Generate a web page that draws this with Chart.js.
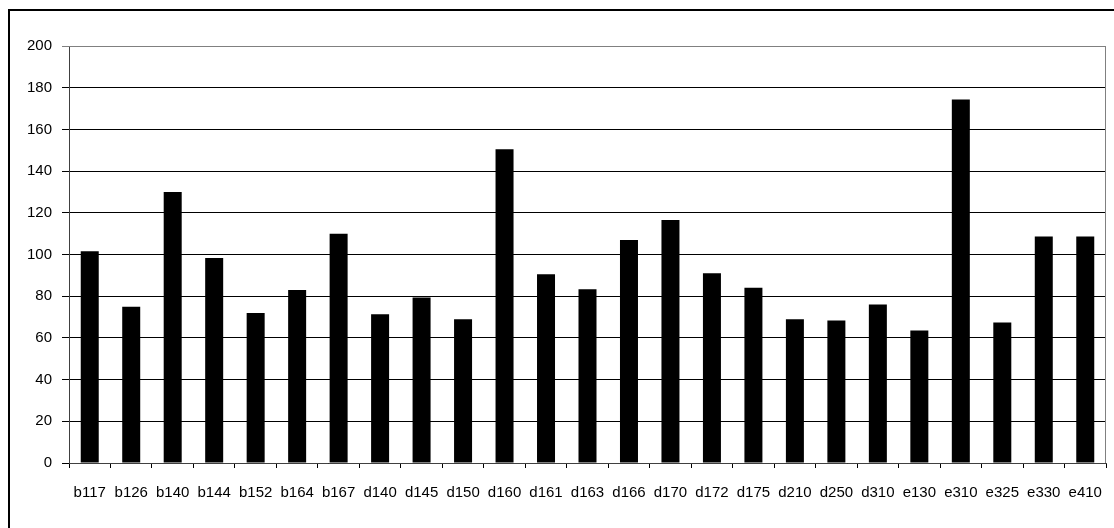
<!DOCTYPE html>
<html>
<head>
<meta charset="utf-8">
<script src="https://cdn.jsdelivr.net/npm/chart.js@4.4.1/dist/chart.umd.min.js"></script>
<style>
    html, body { margin: 0; padding: 0; background: #fff; }
    canvas { display: block; }
</style>
</head>
<body>
<canvas id="barChart" width="1114" height="528"></canvas>
<script>
// data
const categories = ['b117', 'b126', 'b140', 'b144', 'b152', 'b164', 'b167', 'd140', 'd145', 'd150',
    'd160', 'd161', 'd163', 'd166', 'd170', 'd172', 'd175', 'd210', 'd250', 'd310',
    'e130', 'e310', 'e325', 'e330', 'e410'];
const values = [101.5, 75, 130, 98.3, 72, 83, 110, 71.3, 79.4, 69,
    150.5, 90.5, 83.3, 107, 116.5, 91, 84, 69, 68.3, 76,
    63.5, 174.3, 67.4, 108.6, 108.6];
const yMin = 0;
const yMax = 200;
const yStep = 20;

const labelFont = 'Liberation Sans, Arial';

// white background, outer frame and the grey plot-area edge
const framePlugin = {
    id: 'frame',
    beforeDraw(chart) {
        const ctx = chart.ctx;
        ctx.save();
        ctx.fillStyle = '#fff';
        ctx.fillRect(0, 0, chart.width, chart.height);
        ctx.strokeStyle = '#000';
        ctx.lineWidth = 2;
        ctx.beginPath();
        ctx.moveTo(9, chart.height);
        ctx.lineTo(9, 10);
        ctx.lineTo(chart.width, 10);
        ctx.stroke();
        ctx.restore();
    },
    afterDraw(chart) {
        const ctx = chart.ctx;
        const a = chart.chartArea;
        ctx.save();
        ctx.strokeStyle = '#808080';
        ctx.lineWidth = 1;
        ctx.beginPath();
        ctx.moveTo(a.left, a.top + 0.5);
        ctx.lineTo(a.right - 0.5, a.top + 0.5);
        ctx.lineTo(a.right - 0.5, a.bottom);
        ctx.stroke();
        ctx.restore();
    }
};

new Chart(document.getElementById('barChart').getContext('2d'), {
    type: 'bar',
    data: {
        labels: categories,
        datasets: [{
            data: values,
            backgroundColor: '#000',
            borderWidth: 0,
            categoryPercentage: 1,
            barPercentage: 0.434
        }]
    },
    options: {
        responsive: false,
        animation: false,
        layout: { padding: { top: 46, right: 8, left: 0, bottom: 0 } },
        plugins: {
            legend: { display: false },
            tooltip: { enabled: false }
        },
        scales: {
            x: {
                grid: { drawOnChartArea: false, drawTicks: true, tickLength: 5, color: '#000' },
                border: { display: true, color: '#404040' },
                ticks: {
                    color: '#000',
                    // tall line height pushes labels down without widening the edge padding
                    font: { family: labelFont, size: 15, lineHeight: 2 },
                    padding: 10,
                    maxRotation: 0,
                    autoSkip: false
                },
                afterFit(scale) { scale.height = 65; }
            },
            y: {
                min: yMin,
                max: yMax,
                grid: {
                    color: (c) => c.tick && c.tick.value === yMax ? '#808080' : '#000',
                    tickLength: 7,
                    drawTicks: true
                },
                border: { display: true, color: '#404040' },
                ticks: {
                    stepSize: yStep,
                    color: '#000',
                    font: { family: labelFont, size: 15 },
                    padding: 10
                },
                afterFit(scale) { scale.width = 69; }
            }
        }
    },
    plugins: [framePlugin]
});
</script>
</body>
</html>
